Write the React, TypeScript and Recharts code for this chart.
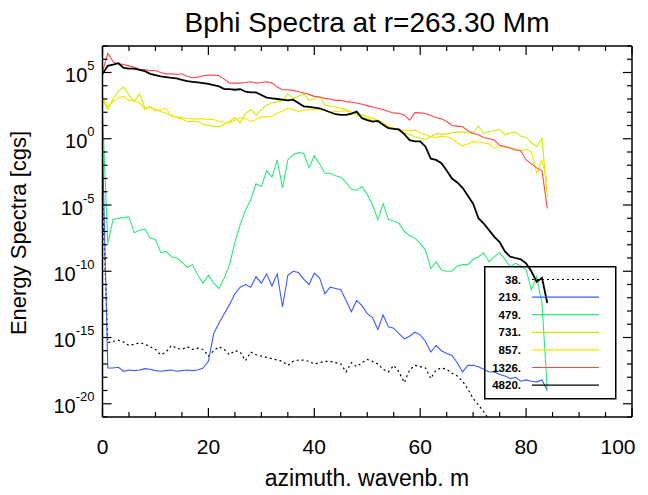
import React from "react";
import { LineChart, Line, XAxis, YAxis } from "recharts";

// azimuthal wavenumber m (0..84)
const wavenumbers = Array.from({ length: 85 }, (_, i) => i);

// log10 of the spectral energy, one value per m
const exp38 = [
  -4.5, -15.4, -15.3, -15.2, -15.35, -15.6, -15.5, -15.4, -15.5, -15.7,
  -15.9, -16.3, -16.1, -15.6, -15.8, -15.9, -15.7, -15.9, -15.8, -15.9,
  -16.4, -16.0, -15.7, -15.9, -16.3, -16.0, -16.1, -16.75, -16.1, -16.3,
  -16.4, -16.5, -16.6, -16.7, -16.8, -17.1, -16.8, -16.7, -16.7, -16.8,
  -17.0, -16.9, -16.8, -16.8, -16.9, -17.0, -17.6, -16.9, -17.2, -16.9,
  -16.65, -16.8, -17.0, -17.4, -17.6, -17.1, -17.6, -18.4, -17.45, -17.1,
  -17.2, -17.3, -18.1, -17.45, -17.3, -17.4, -17.7, -17.9, -18.3, -18.9,
  -19.6, -20.1, -20.6, -21.2, -21.9, -22.5, -23.0,
];
const exp219 = [
  -0.5, -17.3, -17.3, -17.25, -17.55, -17.45, -17.5, -17.45, -17.35, -17.4,
  -17.5, -17.55, -17.5, -17.45, -17.55, -17.5, -17.45, -17.5, -17.45, -17.3,
  -16.8, -14.7, -13.9, -13.2, -12.5, -11.7, -11.2, -11.0, -11.2, -10.4,
  -10.9, -10.2, -11.1, -10.2, -12.7, -10.3, -10.0, -10.1, -10.6, -11.0,
  -10.15, -10.5, -11.7, -11.2, -11.3, -11.4, -12.2, -13.05, -12.2, -12.6,
  -13.2, -13.5, -14.4, -13.3, -14.2, -14.3, -14.7, -15.1, -14.9, -14.6,
  -14.8, -15.3, -16.1, -15.6, -16.0, -16.2, -16.35, -16.9, -17.6, -17.1,
  -17.1, -17.2, -17.4, -17.6, -17.6, -17.8, -17.9, -18.1, -18.0, -18.3,
  -18.2, -18.3, -18.35, -18.2, -19.0,
];
const exp479 = [
  2.0, -7.9, -6.1, -6.0, -5.95, -5.9, -7.1, -6.9, -6.8, -7.5,
  -7.6, -8.6, -8.5, -8.9, -9.0, -9.3, -9.7, -9.5, -10.3, -10.9,
  -10.3, -10.9, -11.3, -10.5, -9.5, -7.8, -6.5, -5.4, -4.6, -3.4,
  -3.6, -2.4, -2.9, -1.6, -3.7, -1.6, -1.2, -1.05, -1.1, -2.2,
  -1.3, -1.9, -2.6, -2.6, -2.8, -2.9, -3.3, -3.8, -3.9, -3.6,
  -4.2, -5.0, -6.1, -4.9, -6.1, -6.2, -6.4, -7.0, -7.3, -7.5,
  -7.9, -8.4, -9.8, -9.3, -9.9, -10.0, -10.0, -9.6, -9.5, -9.5,
  -9.1, -8.9, -8.6, -9.3, -8.9, -8.6, -9.1, -9.65, -9.4, -9.6,
  -9.9, -11.4, -10.4, -12.4, -19.0,
];
const exp731 = [
  2.9, 2.2, 3.0, 3.6, 3.9, 3.3, 2.8, 3.4, 2.3, 2.4,
  2.2, 2.05, 1.9, 1.8, 1.6, 1.5, 1.3, 1.3, 1.3, 1.1,
  1.0, 0.95, 0.9, 1.1, 1.3, 1.6, 1.2, 1.9, 2.2, 1.8,
  2.2, 2.55, 2.7, 2.8, 2.9, 3.4, 3.05, 3.2, 3.4, 2.9,
  3.0, 3.2, 2.55, 2.45, 2.4, 2.3, 2.2, 2.0, 1.9, 1.8,
  1.65, 1.55, 1.4, 1.2, 0.9, 0.75, 0.6, 0.45, 0.3, 0.15,
  0.05, -0.05, 0.15, 0.4, 0.35, 0.35, 0.45, 0.5, 0.5, 0.45,
  0.4, 0.96, 0.4, 0.55, 0.6, 0.7, 0.3, 0.45, 0.5, 0.2,
  0.1, -0.3, -0.6, 0.03, -4.4,
];
const exp857 = [
  3.2, 2.4, 2.8, 3.1, 3.2, 2.9, 2.9, 2.7, 2.2, 2.4,
  2.1, 2.2, 2.3, 1.7, 1.65, 1.6, 1.55, 1.5, 1.5, 1.5,
  1.45, 1.45, 1.3, 1.25, 1.2, 1.4, 1.6, 1.5, 1.3, 1.45,
  1.65, 1.65, 1.7, 1.95, 2.1, 2.3, 2.2, 2.05, 2.15, 2.2,
  2.2, 2.2, 2.15, 2.0, 2.05, 2.1, 2.1, 2.0, 1.8, 1.6,
  1.5, 1.4, 1.25, 1.1, 0.9, 0.8, 0.65, 0.65, 0.6, 0.65,
  0.45, 0.3, 0.15, 0.1, 0.2, 0.15, 0.0, -0.3, -0.55, -0.4,
  -0.2, -0.25, -0.3, -0.4, -0.7, -0.6, -0.55, -0.7, -0.8, -0.9,
  -0.8, -1.0, -2.6, -1.6, -3.3,
];
const exp1326 = [
  5.06, 6.45, 5.8, 5.65, 5.6, 5.5, 5.4, 5.25, 5.2, 5.15,
  5.15, 5.0, 4.9, 4.9, 4.85, 4.9, 4.7, 4.6, 4.65, 4.75,
  4.8, 4.8, 4.75, 4.5, 4.2, 4.2, 4.2, 4.25, 4.3, 4.2,
  4.25, 4.3, 4.2, 3.9, 3.7, 3.7, 3.65, 3.55, 3.45, 3.35,
  3.2, 3.15, 3.05, 3.0, 2.9, 2.9, 2.8, 2.75, 2.7, 2.6,
  2.5, 2.4, 2.3, 2.2, 2.05, 1.95, 1.9, 1.8, 1.4, 1.97,
  1.95, 1.9, 1.75, 1.6, 1.5, 1.3, 1.0, 0.95, 0.9, 0.6,
  0.4, 0.3, 0.1, 0.0, -0.1, -0.5, -0.6, -0.7, -0.85, -0.9,
  -1.6, -1.9, -2.2, -2.4, -5.25,
];
const exp4820 = [
  4.9, 5.5, 5.6, 5.7, 5.35, 5.3, 5.3, 5.2, 5.1, 4.9,
  4.8, 4.7, 4.65, 4.6, 4.55, 4.45, 4.35, 4.3, 4.25, 4.2,
  4.15, 4.05, 3.95, 3.75, 3.75, 3.7, 3.75, 3.55, 3.5, 3.5,
  3.3, 3.1, 3.05, 3.0, 2.95, 2.9, 2.95, 2.7, 2.45, 2.4,
  2.35, 2.3, 2.15, 2.0, 1.85, 1.8, 1.8, 1.9, 2.05, 1.55,
  1.4, 1.3, 1.35, 1.05, 0.8, 0.75, 0.7, 0.35, -0.1, -0.2,
  -0.2, -0.6, -1.5, -1.6, -1.85, -2.4, -3.0, -3.3, -3.7, -4.3,
  -4.9, -6.0, -6.4, -6.9, -7.4, -7.8, -8.5, -8.9, -9.0, -9.1,
  -9.4, -10.0, -10.8, -10.5, -12.4,
];

const seriesKeys = ["s38", "s219", "s479", "s731", "s857", "s1326", "s4820"];
const seriesNames = ["38.", "219.", "479.", "731.", "857.", "1326.", "4820."];
const seriesExps = [exp38, exp219, exp479, exp731, exp857, exp1326, exp4820];
const seriesColors = ["#000000", "#3b5bff", "#2fe87c", "#c8f000", "#ffe100", "#ff4848", "#000000"];
const seriesDash = ["2 3", undefined, undefined, undefined, undefined, undefined, undefined];
const seriesWidth = [1.2, 1.1, 1.1, 1.1, 1.1, 1.1, 1.8];

const xTicks = Array.from({ length: 21 }, (_, i) => i * 5);
const decades = Array.from({ length: 29 }, (_, i) => i - 21);
const yTicks = decades.map((e) => Math.pow(10, e));

const rows = wavenumbers.map((k, i) => {
  const row: Record<string, number> = { m: k };
  seriesKeys.forEach((key, s) => {
    const e = seriesExps[s][i];
    if (e !== undefined) row[key] = Math.pow(10, e);
  });
  return row;
});

const FONT = "'Liberation Sans', Arial, Helvetica, sans-serif";

const BottomTick = ({ x, y, payload }: any) => {
  const major = payload.value % 20 === 0;
  // the last label sits a little left of its tick, as in the original
  const lx = payload.value === 100 ? x - 14 : x;
  return (
    <g>
      <line x1={x} x2={x} y1={y} y2={y - (major ? 9 : 5)} stroke="#000" strokeWidth={1.2} />
      {major && (
        <text x={lx} y={y + 37} textAnchor="middle" fontSize={21} fontFamily={FONT} fill="#000">
          {payload.value}
        </text>
      )}
    </g>
  );
};

const TopTick = ({ x, y, payload }: any) => {
  const major = payload.value % 20 === 0;
  return <line x1={x} x2={x} y1={y} y2={y + (major ? 9 : 5)} stroke="#000" strokeWidth={1.2} />;
};

const LeftTick = ({ x, y, payload }: any) => {
  const e = Math.round(Math.log10(payload.value));
  const major = e % 5 === 0;
  return (
    <g>
      <line x1={x} x2={x + (major ? 9 : 5)} y1={y} y2={y} stroke="#000" strokeWidth={1.2} />
      {major && (
        <text x={x - 8} y={y + 9.5} textAnchor="end" fontSize={20} fontFamily={FONT} fill="#000">
          10
          <tspan dy={-12} fontSize={13}>
            {e}
          </tspan>
        </text>
      )}
    </g>
  );
};

const RightTick = ({ x, y, payload }: any) => {
  const e = Math.round(Math.log10(payload.value));
  const major = e % 5 === 0;
  return <line x1={x} x2={x - (major ? 9 : 5)} y1={y} y2={y} stroke="#000" strokeWidth={1.2} />;
};

const LegendBox = () => (
  <svg
    width={133}
    height={134}
    style={{ position: "absolute", left: 484, top: 266, display: "block", pointerEvents: "none" }}
  >
    <rect x={0.75} y={0.75} width={131} height={132} fill="none" stroke="#000" strokeWidth={1.5} />
    {seriesNames.map((name, i) => {
      const cy = 13.5 + i * 17.6;
      return (
        <g key={name}>
          <text x={37} y={cy + 4} textAnchor="end" fontSize={11.5} fontWeight="bold" fontFamily={FONT} fill="#000">
            {name}
          </text>
          <line
            x1={48}
            x2={115}
            y1={cy}
            y2={cy}
            stroke={seriesColors[i]}
            strokeWidth={i === 6 ? 1.3 : 1.2}
            strokeDasharray={seriesDash[i]}
          />
        </g>
      );
    })}
  </svg>
);

export default function App() {
  return (
    <div style={{ position: "relative", width: 648, height: 495, background: "#fff", fontFamily: FONT }}>
      <style>{"body{margin:0}"}</style>
      <div
        style={{
          position: "absolute",
          left: 102,
          width: 530,
          top: 7,
          textAlign: "center",
          fontSize: 28,
          lineHeight: "32px",
          color: "#000",
        }}
      >
        Bphi Spectra at r=263.30 Mm
      </div>
      <div
        style={{
          position: "absolute",
          left: 102,
          width: 530,
          top: 465,
          textAlign: "center",
          fontSize: 23,
          lineHeight: "27px",
          color: "#000",
        }}
      >
        azimuth. wavenb. m
      </div>
      <div
        style={{
          position: "absolute",
          left: 19,
          top: 233,
          transform: "translate(-50%, -50%) rotate(-90deg)",
          whiteSpace: "nowrap",
          fontSize: 22,
          lineHeight: "26px",
          color: "#000",
        }}
      >
        Energy Spectra [cgs]
      </div>
      <LineChart width={648} height={495} data={rows} margin={{ top: 0, right: 0, bottom: 0, left: 0 }}>
        <XAxis
          xAxisId="b"
          dataKey="m"
          type="number"
          domain={[0, 100]}
          ticks={xTicks}
          interval={0}
          height={78}
          tickSize={0}
          tickMargin={0}
          tickLine={false}
          tick={<BottomTick />}
          axisLine={{ stroke: "#000", strokeWidth: 1.5 }}
        />
        <XAxis
          xAxisId="t"
          orientation="top"
          dataKey="m"
          type="number"
          domain={[0, 100]}
          ticks={xTicks}
          interval={0}
          height={46}
          tickSize={0}
          tickMargin={0}
          tickLine={false}
          tick={<TopTick />}
          axisLine={{ stroke: "#000", strokeWidth: 1.5 }}
        />
        <YAxis
          yAxisId="l"
          scale="log"
          domain={[1e-21, 1e7]}
          allowDataOverflow
          ticks={yTicks}
          interval={0}
          width={102.5}
          tickSize={0}
          tickMargin={0}
          tickLine={false}
          tick={<LeftTick />}
          axisLine={{ stroke: "#000", strokeWidth: 1.5 }}
        />
        <YAxis
          yAxisId="r"
          orientation="right"
          scale="log"
          domain={[1e-21, 1e7]}
          allowDataOverflow
          ticks={yTicks}
          interval={0}
          width={16}
          tickSize={0}
          tickMargin={0}
          tickLine={false}
          tick={<RightTick />}
          axisLine={{ stroke: "#000", strokeWidth: 1.5 }}
        />
        {seriesKeys.map((key, i) => (
          <Line
            key={key}
            xAxisId="b"
            yAxisId="l"
            dataKey={key}
            name={seriesNames[i]}
            type="linear"
            stroke={seriesColors[i]}
            strokeWidth={seriesWidth[i]}
            strokeDasharray={seriesDash[i]}
            dot={false}
            activeDot={false}
            isAnimationActive={false}
            connectNulls={false}
          />
        ))}
      </LineChart>
      <LegendBox />
    </div>
  );
}
